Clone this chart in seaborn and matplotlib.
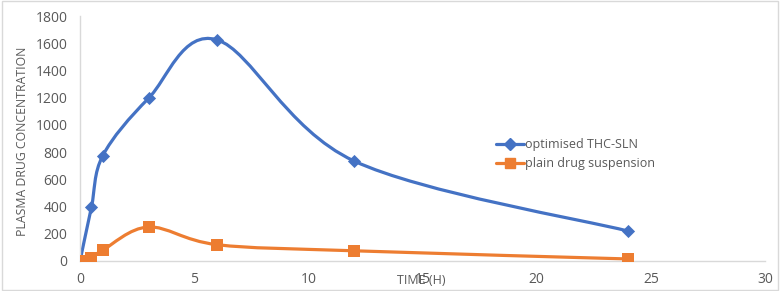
import numpy as np
import pandas as pd
import matplotlib
matplotlib.use("Agg")
import matplotlib.pyplot as plt
from matplotlib.path import Path
from matplotlib.patches import PathPatch, Rectangle
from matplotlib.lines import Line2D
import seaborn as sns

# ---- data ----
time_h = [0, 0.5, 1, 3, 6, 12, 24]
sln_values = [0, 395, 775, 1195, 1625, 735, 220]
susp_values = [0, 25, 80, 250, 120, 75, 15]
series_names = ["optimised THC-SLN", "plain drug suspension"]
x_ticks = [0, 5, 10, 15, 20, 25, 30]
y_ticks = [0, 200, 400, 600, 800, 1000, 1200, 1400, 1600, 1800]

blue = "#4472C4"
orange = "#ED7D31"
grey = "#595959"

sns.set_theme(style="white")
plt.rcParams['font.family'] = ['Open Sans', 'DejaVu Sans']

fig = plt.figure(figsize=(7.8, 2.91), dpi=100)
ax = fig.add_axes([80/780, 1-261/291, 685/780, (261-16)/291])

df = pd.DataFrame({
    "time": time_h * 2,
    "value": sln_values + susp_values,
    "series": [series_names[0]] * len(time_h) + [series_names[1]] * len(time_h),
})


def smooth_path(xs, ys):
    xs = np.asarray(xs, float)
    ys = np.asarray(ys, float)
    pts = np.column_stack([xs, ys])
    n = len(pts)
    verts = [pts[0]]
    codes = [Path.MOVETO]
    for i in range(n - 1):
        p0 = pts[i - 1] if i > 0 else pts[i]
        p1 = pts[i]
        p2 = pts[i + 1]
        p3 = pts[i + 2] if i + 2 < n else pts[i + 1]
        c1 = p1 + (p2 - p0) / 6.0
        c2 = p2 - (p3 - p1) / 6.0
        verts += [c1, c2, p2]
        codes += [Path.CURVE4] * 3
    return Path(verts, codes)


for vals, col in [(sln_values, blue), (susp_values, orange)]:
    patch = PathPatch(smooth_path(time_h, vals), facecolor="none", edgecolor=col,
                      lw=2.3, zorder=2, capstyle="round", joinstyle="round")
    ax.add_patch(patch)

sub1 = df[df.series == series_names[0]]
sub2 = df[df.series == series_names[1]]
sns.scatterplot(data=sub1, x="time", y="value", ax=ax, marker="D", s=45,
                color=blue, edgecolor=blue, linewidth=0, zorder=3, legend=False)
sns.scatterplot(data=sub2, x="time", y="value", ax=ax, marker="s", s=65,
                color=orange, edgecolor=orange, linewidth=0, zorder=3, legend=False)

ax.set_xlim(0, 30)
ax.set_ylim(0, 1800)
ax.set_xticks(x_ticks)
ax.set_yticks(y_ticks)
ax.set_xticklabels([str(t) for t in x_ticks])
ax.set_yticklabels([str(t) for t in y_ticks])
ax.tick_params(axis="both", length=0, labelsize=10, colors=grey)
ax.tick_params(axis="y", pad=9)
ax.tick_params(axis="x", pad=8)

for s in ["top", "right"]:
    ax.spines[s].set_visible(False)
for s in ["left", "bottom"]:
    ax.spines[s].set_color("#D9D9D9")
    ax.spines[s].set_linewidth(1)
ax.grid(False)
ax.set_facecolor("white")

ax.set_xlabel("TIME (H)", fontsize=9, color=grey)
ax.xaxis.set_label_coords(0.498, -0.078)
ax.xaxis.label.set_va("center")
ax.set_ylabel("PLASMA DRUG CONCENTRATION", fontsize=8.8, color=grey)
ax.yaxis.set_label_coords(-0.074, 0.49)

handles = [
    Line2D([0], [0], color=blue, lw=2.3, marker="D", markersize=6),
    Line2D([0], [0], color=orange, lw=2.3, marker="s", markersize=7),
]
leg = ax.legend(handles, series_names, loc="upper left",
                bbox_to_anchor=(0.6, 0.522), frameon=False, fontsize=9,
                handlelength=2.2, handletextpad=0.1, labelspacing=0.5,
                borderaxespad=0)
for t in leg.get_texts():
    t.set_color(grey)

fig.patches.append(Rectangle((0.002, 0.003), 0.996, 0.994, transform=fig.transFigure,
                             fill=False, edgecolor="#D9D9D9", lw=1))

fig.savefig("out.png", dpi=100)
